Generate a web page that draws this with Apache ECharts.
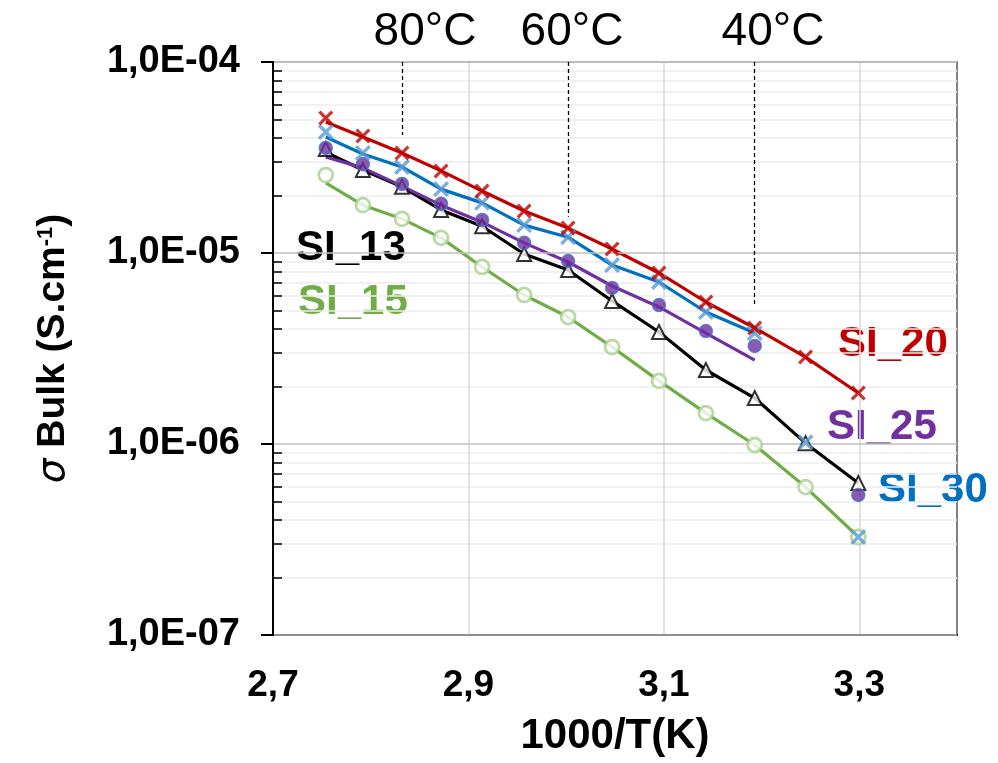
<!DOCTYPE html>
<html>
<head>
<meta charset="utf-8">
<script src="https://cdn.jsdelivr.net/npm/echarts@6/dist/echarts.min.js"></script>
<style>
html,body{margin:0;padding:0;background:#fff;}
#chart{width:998px;height:763px;}
</style>
</head>
<body>
<div id="chart"></div>
<script>
// 1000/T values (K^-1 x 1000) for 90 °C ... 30 °C
const xVals = [2.754, 2.792, 2.832, 2.872, 2.914, 2.957, 3.002, 3.047, 3.095, 3.143, 3.193, 3.245, 3.299];

// measured points (S/cm)
const si20 = [5.09e-5, 4.10e-5, 3.34e-5, 2.69e-5, 2.11e-5, 1.66e-5, 1.35e-5, 1.05e-5, 7.86e-6, 5.54e-6, 4.05e-6, 2.85e-6, 1.85e-6];
const si30 = [4.30e-5, 3.34e-5, 2.82e-5, 2.16e-5, 1.83e-5, 1.40e-5, 1.21e-5, 8.65e-6, 7.05e-6, 4.91e-6, 3.81e-6, 1.02e-6, 3.26e-7];
const si25 = [3.55e-5, 2.92e-5, 2.30e-5, 1.81e-5, 1.49e-5, 1.13e-5, 9.08e-6, 6.56e-6, 5.34e-6, 3.90e-6, 3.26e-6, null, 5.41e-7];
const si13 = [3.50e-5, 2.72e-5, 2.22e-5, 1.68e-5, 1.38e-5, 9.88e-6, 8.15e-6, 5.61e-6, 3.86e-6, 2.44e-6, 1.74e-6, 1.01e-6, 6.25e-7];
const si15 = [2.56e-5, 1.78e-5, 1.51e-5, 1.20e-5, 8.45e-6, 6.03e-6, 4.62e-6, 3.22e-6, 2.14e-6, 1.45e-6, 9.88e-7, 5.95e-7, 3.26e-7];

// trend lines
const si20Fit = [4.85e-5, 4.05e-5, 3.34e-5, 2.69e-5, 2.11e-5, 1.66e-5, 1.35e-5, 1.05e-5, 7.86e-6, 5.54e-6, 4.05e-6, 2.85e-6, 1.85e-6];
const si30Fit = [4.05e-5, 3.30e-5, 2.82e-5, 2.16e-5, 1.83e-5, 1.40e-5, 1.21e-5, 8.65e-6, 7.05e-6, 4.91e-6, 3.81e-6];
const si25Fit = [3.18e-5, 2.79e-5, 2.24e-5, 1.78e-5, 1.45e-5, 1.13e-5, 8.97e-6, 6.72e-6, 5.22e-6, 3.81e-6, 2.75e-6];
const si13Fit = [3.37e-5, 2.72e-5, 2.22e-5, 1.68e-5, 1.38e-5, 9.88e-6, 8.15e-6, 5.61e-6, 3.86e-6, 2.44e-6, 1.74e-6, 1.01e-6, 6.25e-7];
const si15Fit = [2.33e-5, 1.78e-5, 1.51e-5, 1.20e-5, 8.45e-6, 6.03e-6, 4.62e-6, 3.22e-6, 2.14e-6, 1.45e-6, 9.88e-7, 5.95e-7, 3.26e-7];

// axis ticks
const xTicks = [2.7, 2.9, 3.1, 3.3];
const yMin = 1e-7, yMax = 1e-4;
const minorY = [2e-7,3e-7,4e-7,5e-7,6e-7,7e-7,8e-7,9e-7,
                2e-6,3e-6,4e-6,5e-6,6e-6,7e-6,8e-6,9e-6,
                2e-5,3e-5,4e-5,5e-5,6e-5,7e-5,8e-5,9e-5];

// temperature guides
const tempLabels = ['80°C', '60°C', '40°C'];
const tempX = [2.832, 3.002, 3.193];
const tempLineEnd = [4.15e-5, 1.55e-5, 5.35e-6];

const FONT = 'Liberation Sans, Arial, sans-serif';
const xShape = 'path://M0,1.5L1.5,0L5,3.5L8.5,0L10,1.5L6.5,5L10,8.5L8.5,10L5,6.5L1.5,10L0,8.5L3.5,5Z';

function pts(arr) {
  const out = [];
  arr.forEach((v, i) => { if (v != null) out.push([xVals[i], v]); });
  return out;
}

const chart = echarts.init(document.getElementById('chart'), null, {renderer: 'canvas'});

const tempMark = tempX.map((x, i) => [
  {coord: [x, yMax]},
  {coord: [x, tempLineEnd[i]]}
]);

function lineSeries(name, data, color, extra) {
  return Object.assign({
    name: name, type: 'line', data: pts(data), showSymbol: false, symbol: 'none',
    lineStyle: {color: color, width: 3.2}, silent: true, z: 3, animation: false
  }, extra || {});
}
function markerSeries(name, data, symbol, size, style, z) {
  return {
    name: name, type: 'scatter', data: pts(data), symbol: symbol, symbolSize: size,
    itemStyle: style, z: z || 5, animation: false, silent: true
  };
}

const option = {
  animation: false,
  backgroundColor: '#fff',
  grid: {left: 273, right: 41, top: 62, bottom: 128, show: true, borderColor: '#595959', borderWidth: 1.5, backgroundColor: 'transparent'},
  xAxis: {
    type: 'value', min: 2.7, max: 3.4,
    axisLine: {show: true, onZero: false, lineStyle: {color: '#000', width: 2}},
    axisTick: {show: false, customValues: xTicks},
    axisLabel: {customValues: xTicks, formatter: v => v.toFixed(1).replace('.', ','), fontSize: 37, fontWeight: 'bold', color: '#000', margin: 32, fontFamily: FONT},
    splitLine: {show: true, lineStyle: {color: '#d9d9d9', width: 1.5}},
    name: '1000/T(K)', nameLocation: 'middle', nameGap: 80,
    nameTextStyle: {fontSize: 42, fontWeight: 'bold', color: '#000', fontFamily: FONT}
  },
  yAxis: [{
    type: 'log', logBase: 10, min: yMin, max: yMax,
    axisLine: {show: true, lineStyle: {color: '#000', width: 2}},
    axisTick: {show: true, length: 12, lineStyle: {color: '#000', width: 2}},
    axisLabel: {
      formatter: v => { const e = Math.round(Math.log10(v)); return '1,0E-' + String(-e).padStart(2, '0'); },
      fontSize: 38, fontWeight: 'bold', color: '#000', margin: 33, fontFamily: FONT
    },
    splitLine: {show: true, lineStyle: {color: '#bfbfbf', width: 1.5}},
    name: '{s|σ} Bulk (S.cm{sup|-1})', nameLocation: 'middle', nameGap: 200,
    nameTextStyle: {fontSize: 39, fontWeight: 'bold', color: '#000', fontFamily: FONT,
      rich: {
        s: {fontSize: 39, fontStyle: 'italic', fontWeight: 'normal', color: '#000', fontFamily: 'DejaVu Sans'},
        sup: {fontSize: 22, fontWeight: 'bold', color: '#000', fontFamily: FONT, padding: [0, 0, 16, 0]}
      }
    },
    z: 4
  }, {
    type: 'log', logBase: 10, min: yMin, max: yMax, position: 'left',
    axisLine: {show: false},
    axisLabel: {show: false},
    axisTick: {show: true, inside: true, length: 9, customValues: minorY, lineStyle: {color: '#000', width: 1.5}},
    splitLine: {show: true, lineStyle: {color: '#ededed', width: 1.5}}
  }],
  series: [
    lineSeries('SI_15 fit', si15Fit, '#70AD47', {markLine: {
      silent: true, symbol: ['none', 'none'], label: {show: false},
      lineStyle: {color: '#000', type: [4, 3], width: 1.3}, data: tempMark, animation: false
    }}),
    lineSeries('SI_13 fit', si13Fit, '#000000'),
    lineSeries('SI_25 fit', si25Fit, '#7030A0'),
    lineSeries('SI_30 fit', si30Fit, '#0070C0'),
    lineSeries('SI_20 fit', si20Fit, '#C00000'),
    markerSeries('SI_15', si15, 'circle', 14, {color: '#ffffff', borderColor: '#A9D18E', borderWidth: 2.8}, 5),
    markerSeries('SI_13', si13, 'triangle', 14, {color: '#ffffff', borderColor: '#000000', borderWidth: 2}, 6),
    markerSeries('SI_25', si25, 'circle', 13, {color: '#7030A0', borderColor: '#4472C4', borderWidth: 1.5}, 7),
    markerSeries('SI_30', si30, xShape, 16, {color: '#5B9BD5'}, 8),
    markerSeries('SI_20', si20, xShape, 15, {color: '#C00000'}, 9)
  ],
  graphic: [
    {type: 'text', left: 296, top: 227, style: {text: 'SI_13', fontSize: 42, fontWeight: 'bold', fill: '#000', fontFamily: FONT}},
    {type: 'text', left: 298, top: 281, style: {text: 'SI_15', fontSize: 42, fontWeight: 'bold', fill: '#70AD47', fontFamily: FONT}},
    {type: 'text', left: 838, top: 323, style: {text: 'SI_20', fontSize: 42, fontWeight: 'bold', fill: '#C00000', fontFamily: FONT}},
    {type: 'text', left: 827, top: 406, style: {text: 'SI_25', fontSize: 42, fontWeight: 'bold', fill: '#7030A0', fontFamily: FONT}},
    {type: 'text', left: 878, top: 469, style: {text: 'SI_30', fontSize: 42, fontWeight: 'bold', fill: '#0070C0', fontFamily: FONT}},
    {type: 'text', x: 425, y: 32, style: {text: tempLabels[0], fontSize: 46, fill: '#000', fontFamily: FONT, align: 'center', verticalAlign: 'middle'}},
    {type: 'text', x: 572, y: 32, style: {text: tempLabels[1], fontSize: 46, fill: '#000', fontFamily: FONT, align: 'center', verticalAlign: 'middle'}},
    {type: 'text', x: 773, y: 32, style: {text: tempLabels[2], fontSize: 46, fill: '#000', fontFamily: FONT, align: 'center', verticalAlign: 'middle'}}
  ]
};
chart.setOption(option);
</script>
</body>
</html>
